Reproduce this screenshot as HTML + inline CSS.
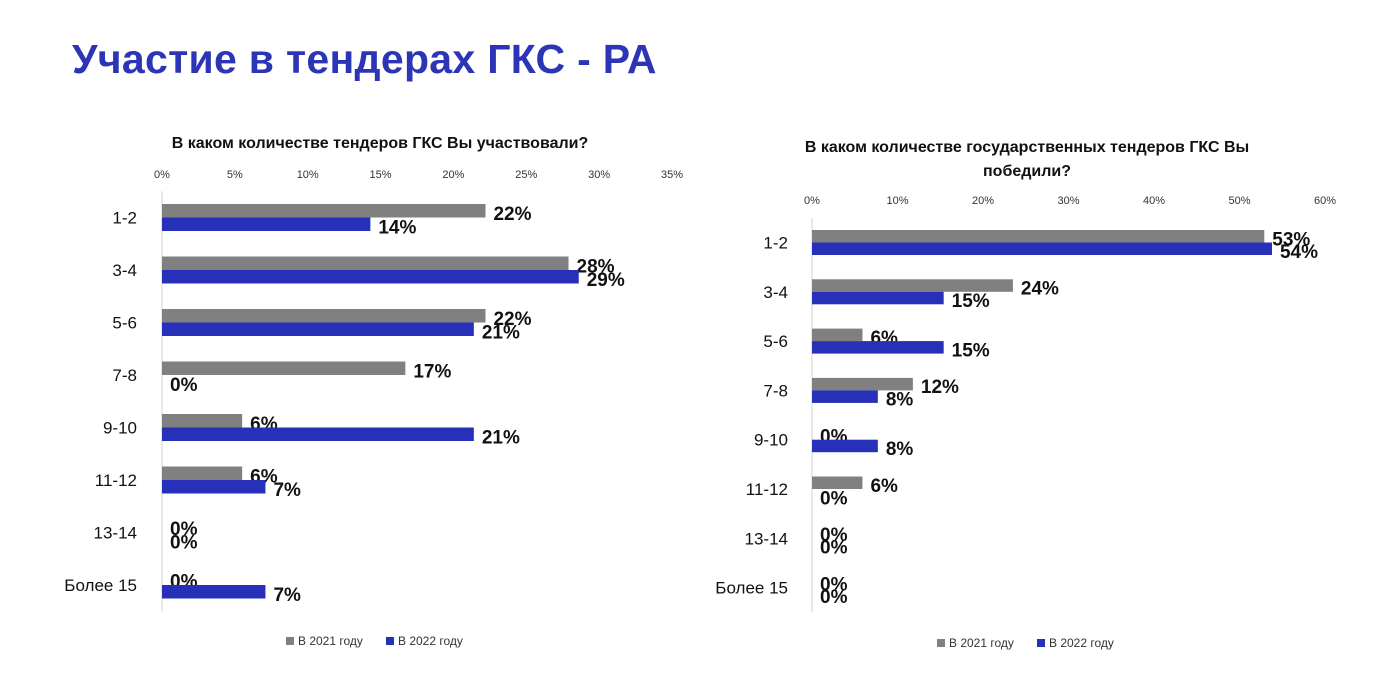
<!DOCTYPE html>
<html><head><meta charset="utf-8">
<style>
body{margin:0;background:#fff;width:1400px;height:700px;overflow:hidden;font-family:"Liberation Sans",sans-serif;}
h1{position:absolute;left:72px;top:36px;margin:0;font-size:41px;font-weight:bold;color:#2B35B5;letter-spacing:0.3px}
svg{position:absolute;left:0;top:0}
</style></head>
<body>
<h1>Участие в тендерах ГКС - РА</h1>
<svg id="c" width="1400" height="700"></svg>
<script>
const categories=["1-2","3-4","5-6","7-8","9-10","11-12","13-14","Более 15"];
const leftTicks=[0,5,10,15,20,25,30,35];
const left2021=[22.2,27.9,22.2,16.7,5.5,5.5,0,0];
const left2022=[14.3,28.6,21.4,0,21.4,7.1,0,7.1];
const rightTicks=[0,10,20,30,40,50,60];
const right2021=[52.9,23.5,5.9,11.8,0,5.9,0,0];
const right2022=[53.8,15.4,15.4,7.7,7.7,0,0,0];
const GRAY="#808080",BLUE="#2630B8";
const svg=document.getElementById('c');
const NS="http://www.w3.org/2000/svg";
function mk(tag,attrs,text){const e=document.createElementNS(NS,tag);for(const k in attrs)e.setAttribute(k,attrs[k]);if(text!=null)e.textContent=text;svg.appendChild(e);return e;}
function chart(o){
  const x=v=>o.x0+(v-o.tMin)/(o.tMax-o.tMin)*(o.x1-o.x0);
  o.title.forEach((t,i)=>{const e=mk('text',{x:o.tx,y:o.ty+i*24,'text-anchor':'middle','font-size':16,'font-weight':'bold',fill:'#111'},t);
  });
  o.ticks.forEach(t=>{const e=mk('text',{x:x(t),y:o.tickY,'text-anchor':'middle','font-size':11,fill:'#333'},t+'%');
  });
  const ax=mk('line',{x1:o.x0,x2:o.x0,y1:o.c0-o.step/2,y2:o.c0+o.step*(categories.length-0.5),stroke:'#d0d0d0','stroke-width':1});
  
  categories.forEach((c,i)=>{
    const cy=o.c0+i*o.step;
    const l=mk('text',{x:o.labelX,y:cy+6,'text-anchor':'end','font-size':17,fill:'#111'},c);
    
    [[o.a[i],GRAY,cy-o.bh,'bar-2021'],[o.b[i],BLUE,cy,'bar-2022']].forEach(([v,col,y,n])=>{
      const r=mk('rect',{x:o.x0,y:y,width:Math.max(0,x(v)-o.x0),height:o.bh,fill:col});
      
      const t=mk('text',{x:x(v)+8,y:y+o.bh/2+9,'font-size':19,'font-weight':'bold',fill:'#111'},Math.round(v)+'%');
      
    });
  });
  [[GRAY,'В 2021 году',o.lx],[BLUE,'В 2022 году',o.lx+100]].forEach(([col,t,lx])=>{
    const r=mk('rect',{x:lx,y:o.ly-8,width:8,height:8,fill:col});
    
    const e=mk('text',{x:lx+12,y:o.ly,'font-size':12,fill:'#333'},t);
    
  });
}
chart({x0:162,x1:672,tMin:0,tMax:35,ticks:leftTicks,a:left2021,b:left2022,c0:217.5,step:52.5,bh:13.5,labelX:137,
  title:["В каком количестве тендеров ГКС Вы участвовали?"],tx:380,ty:148,tickY:178,lx:286,ly:645});
chart({x0:812,x1:1325,tMin:0,tMax:60,ticks:rightTicks,a:right2021,b:right2022,c0:242.5,step:49.3,bh:12.5,labelX:788,
  title:["В каком количестве государственных тендеров ГКС Вы","победили?"],tx:1027,ty:152,tickY:204,lx:937,ly:647});
</script>
</body></html>
